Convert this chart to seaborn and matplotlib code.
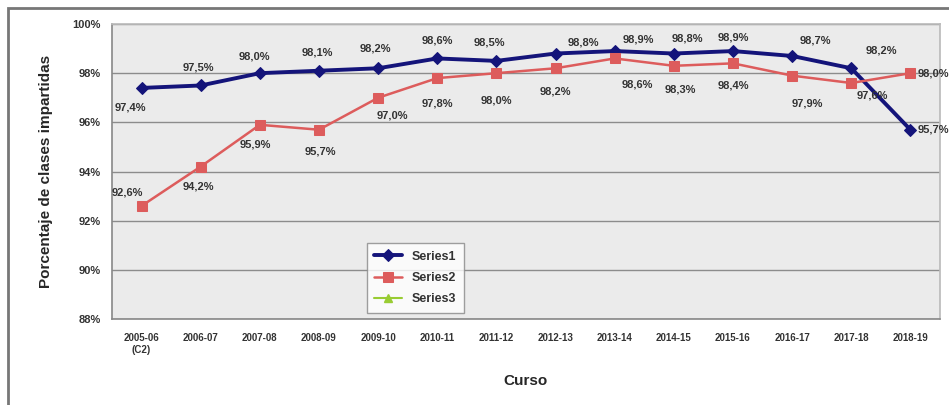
import numpy as np
import pandas as pd
import seaborn as sns
import matplotlib.pyplot as plt
from matplotlib.patches import Rectangle

# chart values
cursos = ["2005-06\n(C2)", "2006-07", "2007-08", "2008-09", "2009-10", "2010-11",
          "2011-12", "2012-13", "2013-14", "2014-15", "2015-16", "2016-17",
          "2017-18", "2018-19"]
series1 = [97.4, 97.5, 98.0, 98.1, 98.2, 98.6, 98.5, 98.8, 98.9, 98.8, 98.9, 98.7, 98.2, 95.7]
series2 = [92.6, 94.2, 95.9, 95.7, 97.0, 97.8, 98.0, 98.2, 98.6, 98.3, 98.4, 97.9, 97.6, 98.0]
y_ticks = [88, 90, 92, 94, 96, 98, 100]

# label offsets in points (dx, dy), Excel-like placement
off1 = [(-8, -14), (-2, 13), (-4, 12), (-1, 13), (-2, 14), (0, 13), (-5, 13),
        (20, 8), (17, 8), (10, 11), (0, 10), (17, 11), (22, 13), (5, 0)]
off2 = [(-10, 10), (-2, -14), (-3, -14), (1, -16), (10, -13), (0, -18), (0, -20),
        (0, -17), (16, -19), (5, -17), (0, -16), (11, -20), (15, -9), (5, 0)]

c1, c2, c3 = "#14147a", "#dd5c5c", "#99cc33"

df = pd.DataFrame({"x": np.arange(len(cursos)), "s1": series1, "s2": series2})

sns.set_theme(style="white")
plt.rcParams["font.family"] = ["Liberation Sans", "DejaVu Sans"]

fig = plt.figure(figsize=(9.49, 4.05), dpi=100)
ax = fig.add_axes([0.118, 0.2123, 0.8725, 0.7284])
ax.set_facecolor("#ebebeb")

sns.lineplot(data=df, x="x", y="s1", ax=ax, color=c1, lw=2.8, marker="D",
             markersize=6, markeredgecolor=c1, label="Series1")
sns.lineplot(data=df, x="x", y="s2", ax=ax, color=c2, lw=1.8, marker="s",
             markersize=7, markeredgecolor=c2, label="Series2")
ax.plot([], [], color=c3, lw=1.5, marker="^", markersize=6, label="Series3")

last = len(cursos) - 1
for i, v in enumerate(series1):
    ax.annotate(f"{v:.1f}%".replace(".", ","), (df.x[i], v), xytext=off1[i],
                textcoords="offset points", ha="left" if i == last else "center",
                va="center", fontsize=8, fontweight="bold", color="#333333")
for i, v in enumerate(series2):
    ax.annotate(f"{v:.1f}%".replace(".", ","), (df.x[i], v), xytext=off2[i],
                textcoords="offset points", ha="left" if i == last else "center",
                va="center", fontsize=8, fontweight="bold", color="#333333")

ax.set_xlim(-0.5, len(cursos) - 0.5)
ax.set_ylim(88, 100)
ax.set_yticks(y_ticks)
ax.set_yticklabels([f"{t}%" for t in y_ticks], fontsize=8, fontweight="bold", color="#333333")
ax.set_xticks(df.x)
ax.set_xticklabels(cursos, fontsize=7, fontweight="bold", color="#333333")
ax.tick_params(axis="both", length=0, pad=8)
ax.tick_params(axis="x", pad=10)
ax.grid(axis="y", color="#8c8c8c", lw=1)
ax.set_axisbelow(True)
for side in ["top", "right"]:
    ax.spines[side].set_color("#bbbbbb")
for side in ["left", "bottom"]:
    ax.spines[side].set_color("#888888")
    ax.spines[side].set_linewidth(1.2)

ax.set_xlabel("Curso", fontsize=11, fontweight="bold", labelpad=14)
ax.set_ylabel("Porcentaje de clases impartidas", fontsize=11, fontweight="bold", labelpad=14)

leg = ax.legend(loc="lower left", bbox_to_anchor=(0.30, 0.0), frameon=True,
                fancybox=False, fontsize=9, handlelength=2.2, borderpad=0.6,
                labelspacing=0.75, edgecolor="#888888")
leg.get_frame().set_facecolor("white")
for t in leg.get_texts():
    t.set_fontweight("bold")
    t.set_color("#333333")

# outer chart frame
fig.patches.append(Rectangle((8 / 949, -0.05), 1.1, 1.05 - 8 / 405, transform=fig.transFigure,
                             fill=False, edgecolor="#777777", lw=2))

fig.savefig("out.png", dpi=100)
